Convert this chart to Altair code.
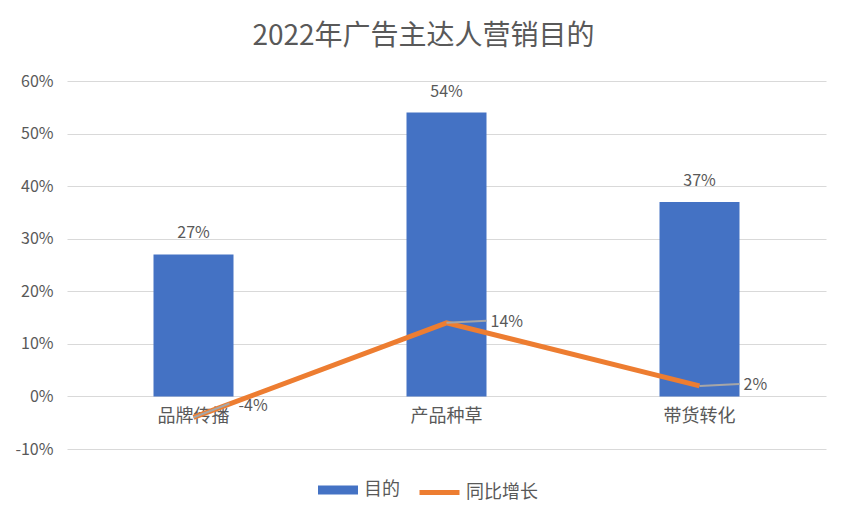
import altair as alt
import pandas as pd

categories = ["品牌传播", "产品种草", "带货转化"]
purpose = [0.27, 0.54, 0.37]
growth = [-0.04, 0.14, 0.02]

df = pd.DataFrame({"cat": categories, "purpose": purpose, "growth": growth})

FONT = "Noto Sans CJK SC"
GRAY = "#595959"
BLUE = "#4472C4"
ORANGE = "#ED7D31"

x_enc = alt.X("cat:N", sort=categories, title=None,
              scale=alt.Scale(paddingInner=0, paddingOuter=0),
              axis=alt.Axis(offset=-52.6, domain=False, ticks=False, labelAngle=0,
                            labelFontSize=18, labelColor=GRAY, labelFont=FONT,
                            labelPadding=11, grid=False))
y_scale = alt.Scale(domain=[-0.1, 0.6], nice=False, zero=False)

base = alt.Chart(df).transform_calculate(
    glabel="replace(format(datum.growth, '.0%'), '\u2212', '-')"
)

bars = base.mark_bar(size=80, color=BLUE).encode(
    x=x_enc,
    y=alt.Y("purpose:Q", scale=y_scale, title=None,
            axis=alt.Axis(format=".0%", values=[-0.1, 0, 0.1, 0.2, 0.3, 0.4, 0.5, 0.6],
                          labelExpr="replace(datum.label, '\u2212', '-')",
                          domain=False, ticks=False, labelFontSize=16, labelColor=GRAY,
                          labelFont=FONT, labelPadding=14, gridColor="#D9D9D9",
                          gridWidth=1)),
    fill=alt.Fill("s:N", scale=alt.Scale(domain=["目的"], range=[BLUE]),
                  legend=alt.Legend(title=None, orient="none", legendX=251, legendY=389,
                                    symbolType="M-1,-0.22L1,-0.22L1,0.22L-1,0.22Z",
                                    symbolSize=1600, symbolStrokeWidth=0,
                                    labelFontSize=18, labelColor=GRAY, labelFont=FONT,
                                    labelOffset=6)),
).transform_calculate(s="'目的'")

bar_labels = base.mark_text(baseline="bottom", dy=-13, fontSize=16, color=GRAY, font=FONT).encode(
    x=alt.X("cat:N", sort=categories),
    y=alt.Y("purpose:Q", scale=y_scale),
    text=alt.Text("purpose:Q", format=".0%"),
)

line = base.mark_line(strokeWidth=5, strokeCap="butt").encode(
    x=alt.X("cat:N", sort=categories),
    y=alt.Y("growth:Q", scale=y_scale),
    stroke=alt.Stroke("s2:N", scale=alt.Scale(domain=["同比增长"], range=[ORANGE]),
                      legend=alt.Legend(title=None, orient="none", legendX=350, legendY=389,
                                        symbolType="stroke", symbolSize=1600,
                                        symbolStrokeWidth=5,
                                        labelFontSize=18, labelColor=GRAY, labelFont=FONT,
                                        labelOffset=4)),
).transform_calculate(s2="'同比增长'")

pos = base.transform_filter("datum.growth >= 0")
neg = base.transform_filter("datum.growth < 0")

leader_pos = pos.mark_rule(color="#A6A6A6", strokeWidth=2, x2Offset=40, y2Offset=-2).encode(
    x=alt.X("cat:N", sort=categories, bandPosition=0.5),
    x2=alt.X2("cat", bandPosition=0.5),
    y=alt.Y("growth:Q", scale=y_scale),
    y2=alt.Y2("growth"),
)
leader_neg = neg.mark_rule(color="#A6A6A6", strokeWidth=2, x2Offset=36, y2Offset=-14).encode(
    x=alt.X("cat:N", sort=categories, bandPosition=0.5),
    x2=alt.X2("cat", bandPosition=0.5),
    y=alt.Y("growth:Q", scale=y_scale),
    y2=alt.Y2("growth"),
)

lab_pos = pos.mark_text(align="left", dx=44, dy=-1, fontSize=16, color=GRAY, font=FONT).encode(
    x=alt.X("cat:N", sort=categories),
    y=alt.Y("growth:Q", scale=y_scale),
    text=alt.Text("glabel:N"),
)
lab_neg = neg.mark_text(align="left", dx=45, dy=-11, fontSize=16, color=GRAY, font=FONT).encode(
    x=alt.X("cat:N", sort=categories),
    y=alt.Y("growth:Q", scale=y_scale),
    text=alt.Text("glabel:N"),
)

chart = alt.layer(bars, bar_labels, line, leader_pos, leader_neg, lab_pos, lab_neg).resolve_scale(
    fill="independent", stroke="independent"
).properties(
    width=759, height=368,
    padding={"left": 59, "top": 73, "right": 14, "bottom": 60},
    autosize=alt.AutoSizeParams(type="none"),
    title=alt.TitleParams("2022年广告主达人营销目的", fontSize=28, font=FONT, color=GRAY,
                          fontWeight="normal", anchor="middle", dx=-23, offset=22),
).configure_view(stroke=None)

chart.save("out.html", embed_options={"renderer": "svg", "actions": False})
